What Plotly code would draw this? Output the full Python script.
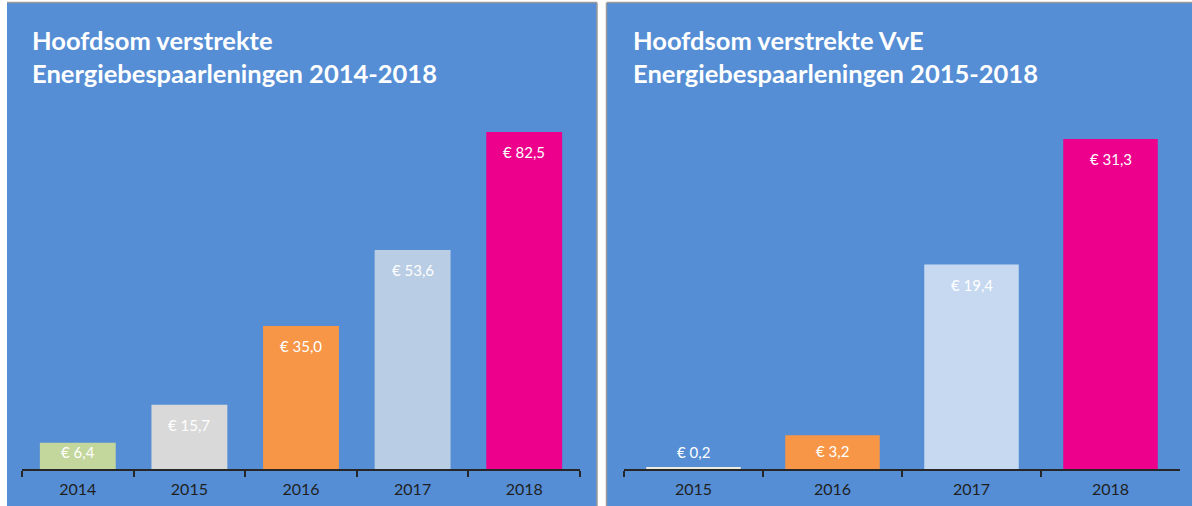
import plotly.graph_objects as go

# left chart: all loans 2014-2018 (mln euro)
years_all = ["2014", "2015", "2016", "2017", "2018"]
values_all = [6.4, 15.7, 35.0, 53.6, 82.5]
colors_all = ["#C3D69B", "#D9D9D9", "#F79646", "#B9CDE5", "#EC008C"]

# right chart: VvE loans 2015-2018 (mln euro)
years_vve = ["2015", "2016", "2017", "2018"]
values_vve = [0.2, 3.2, 19.4, 31.3]
colors_vve = ["#EEECE1", "#F79646", "#C6D9F1", "#EC008C"]

title_all = "Hoofdsom verstrekte<br>Energiebespaarleningen 2014-2018"
title_vve = "Hoofdsom verstrekte VvE<br>Energiebespaarleningen 2015-2018"

W, H = 1192, 506
BLUE = "#558ED5"
FONT = "Lato"
ydom = [37 / H, (H - 110) / H]
ymax_all = 359 / 4.085
ymax_vve = 359 / 10.54


def label(v):
    return "€ " + f"{v:.1f}".replace(".", ",")


fig = go.Figure()

fig.add_trace(go.Bar(
    x=years_all, y=values_all, marker_color=colors_all, marker_line_width=0,
    xaxis="x", yaxis="y", showlegend=False, hoverinfo="skip",
))
fig.add_trace(go.Bar(
    x=years_vve, y=values_vve, marker_color=colors_vve, marker_line_width=0,
    xaxis="x2", yaxis="y2", showlegend=False, hoverinfo="skip",
))

# data labels: inside near the top (kept clear of the axis), or above tiny bars
plot_h = H * (ydom[1] - ydom[0])
for xa, ya, vals, ymax in [("x", "y", values_all, ymax_all),
                           ("x2", "y2", values_vve, ymax_vve)]:
    for i, v in enumerate(vals):
        bar_px = v * plot_h / ymax
        if bar_px < 15:
            shift = 15
        else:
            shift = -min(20, bar_px - 17.5)
        fig.add_annotation(x=i, y=v, xref=xa, yref=ya, text=label(v), showarrow=False,
                           yanchor="middle", yshift=shift,
                           font=dict(color="white", size=15, family=FONT))

# panel backgrounds
fig.add_shape(type="rect", xref="paper", yref="paper", layer="below",
              x0=7 / W, x1=597 / W, y0=0, y1=(H - 3) / H,
              fillcolor=BLUE, line_width=0)
fig.add_shape(type="rect", xref="paper", yref="paper", layer="below",
              x0=607 / W, x1=1, y0=0, y1=(H - 3) / H,
              fillcolor=BLUE, line_width=0)
for x0, x1 in [(7, 597), (607, W)]:
    fig.add_shape(type="line", xref="paper", yref="paper",
                  x0=x0 / W, x1=x1 / W, y0=(H - 2.5) / H, y1=(H - 2.5) / H,
                  line=dict(color="#9A9A9A", width=1.5))
for x in [597, 606.5]:
    fig.add_shape(type="line", xref="paper", yref="paper",
                  x0=x / W, x1=x / W, y0=0, y1=(H - 2.5) / H,
                  line=dict(color="#9A9A9A", width=1.5))

for x, txt in [(30 / W, title_all), (631 / W, title_vve)]:
    fig.add_annotation(text=txt, xref="paper", yref="paper", x=x, y=(H - 23) / H,
                       xanchor="left", yanchor="top", align="left", showarrow=False,
                       font=dict(color="white", size=25.5, family=FONT, weight="bold"))

axis_common = dict(type="category", showgrid=False, zeroline=False, showline=True,
                   linecolor="#262626", linewidth=1.5, ticks="outside",
                   tickson="boundaries", ticklen=6, tickangle=0, automargin=False,
                   tickcolor="#262626", tickwidth=1.5, ticklabelstandoff=5,
                   tickfont=dict(size=16, color="#1F1F1F", family=FONT))

fig.update_layout(
    width=W, height=H, margin=dict(l=0, r=0, t=0, b=0),
    paper_bgcolor="white", plot_bgcolor="rgba(0,0,0,0)",
    bargap=0.32,
    xaxis=dict(domain=[22 / W, 580 / W], anchor="y",
               range=[-0.5, len(years_all) - 0.5], **axis_common),
    yaxis=dict(domain=ydom, range=[0, ymax_all], visible=False, anchor="x"),
    xaxis2=dict(domain=[624 / W, 1180 / W], anchor="y2",
                range=[-0.5, len(years_vve) - 0.5], **axis_common),
    yaxis2=dict(domain=ydom, range=[0, ymax_vve], visible=False, anchor="x2"),
)

fig.write_html("out.html", config={"displayModeBar": False},
               post_script="document.body.style.margin='0';")
